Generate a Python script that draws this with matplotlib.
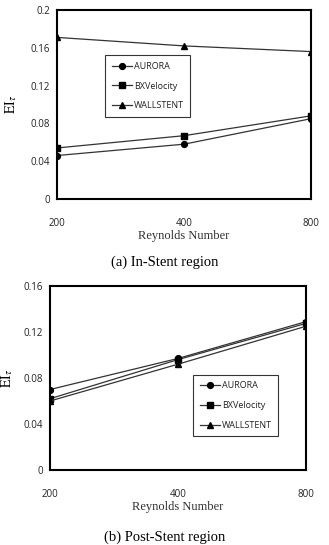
import matplotlib
matplotlib.use("Agg")
import matplotlib.pyplot as plt

plt.rcParams['mathtext.fontset'] = 'stix'

reynolds = ["200", "400", "800"]
series_names = ["AURORA", "BXVelocity", "WALLSTENT"]
markers = ["o", "s", "^"]

in_stent_aurora = [0.046, 0.058, 0.085]
in_stent_bx = [0.054, 0.067, 0.088]
in_stent_wall = [0.171, 0.162, 0.156]

post_stent_aurora = [0.070, 0.097, 0.129]
post_stent_bx = [0.062, 0.096, 0.1275]
post_stent_wall = [0.060, 0.092, 0.125]

yticks_a = [0, 0.04, 0.08, 0.12, 0.16, 0.2]
yticklabels_a = ["0", "0.04", "0.08", "0.12", "0.16", "0.2"]
yticks_b = [0, 0.04, 0.08, 0.12, 0.16]
yticklabels_b = ["0", "0.04", "0.08", "0.12", "0.16"]

fig = plt.figure(figsize=(3.29, 5.45), dpi=100)
W, H = 329, 545

def make_ax(left, top, right, bottom):
    return fig.add_axes([left / W, 1 - bottom / H, (right - left) / W, (bottom - top) / H])

ax1 = make_ax(57, 10, 311, 199)
ax2 = make_ax(50, 286, 306, 470)

def style(ax, data, yticks, ylabels, ymax, legend_box, caption, cap_y, lab_y, ylab_pad):
    x = list(range(len(reynolds)))
    for vals, name, m in zip(data, series_names, markers):
        ax.plot(x, vals, color="#333333", lw=0.9, marker=m, markersize=4.2,
                markerfacecolor="black", markeredgecolor="black", label=name)
    ax.set_xlim(0, len(reynolds) - 1)
    ax.set_ylim(0, ymax)
    ax.set_yticks(yticks)
    ax.set_yticklabels(ylabels, fontsize=7, family="Open Sans", color="#222222")
    ax.set_xticks(x)
    ax.set_xticklabels(reynolds, fontsize=7, family="Open Sans", color="#222222")
    ax.tick_params(axis="both", length=0)
    ax.tick_params(axis="x", pad=14)
    ax.tick_params(axis="y", pad=5)
    for s in ax.spines.values():
        s.set_linewidth(1.5)
        s.set_color("black")
    ax.set_ylabel(r"$\mathrm{EI}_{\tau}$", fontsize=10, labelpad=ylab_pad)
    leg = ax.legend(loc="upper left", bbox_to_anchor=legend_box, borderaxespad=0,
                    frameon=True, fancybox=False, edgecolor="black",
                    handlelength=2.3, handletextpad=0.15, labelspacing=1.2,
                    borderpad=0.7, prop={"family": "Open Sans", "size": 6.5})
    leg.get_frame().set_linewidth(0.8)
    for t in leg.get_texts():
        t.set_color("#222222")
    pos = ax.get_position()
    fig.text(0.5 * (pos.x0 + pos.x1), 1 - lab_y / H,
             "Reynolds Number", ha="center", va="center", fontsize=9,
             family="Liberation Serif", color="#333333")
    fig.text(0.5, 1 - cap_y / H, caption, ha="center", va="center", fontsize=10.5,
             family="Liberation Serif", color="black")
    return ax

style(ax1, [in_stent_aurora, in_stent_bx, in_stent_wall], yticks_a, yticklabels_a, 0.2,
      (0.19, 0.76), "(a) In-Stent region", 262, 236, 8)
style(ax2, [post_stent_aurora, post_stent_bx, post_stent_wall], yticks_b, yticklabels_b, 0.16,
      (0.56, 0.516), "(b) Post-Stent region", 537, 507, 6)

fig.savefig("out.png", dpi=100)
